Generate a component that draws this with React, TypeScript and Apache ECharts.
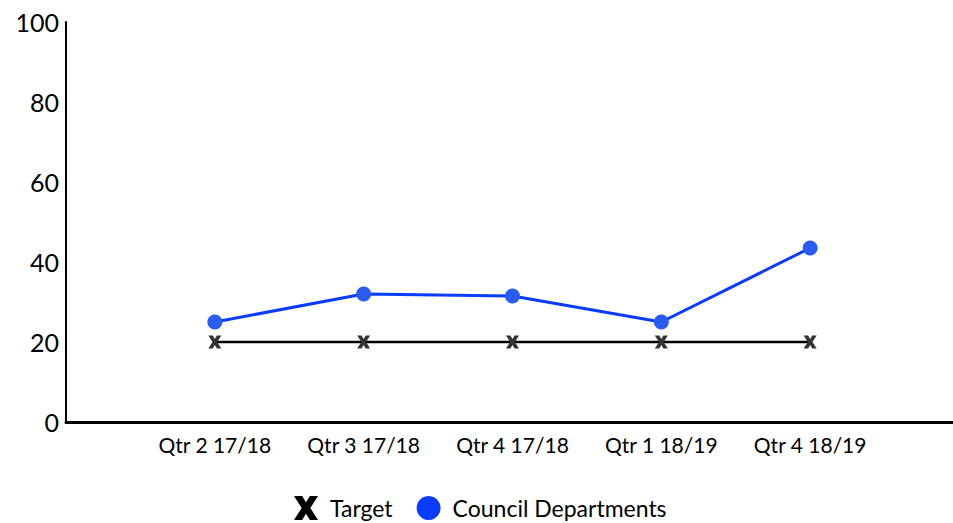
import React, { useEffect, useRef } from "react";
import * as echarts from "echarts";

const categories = ["", "Qtr 2 17/18", "Qtr 3 17/18", "Qtr 4 17/18", "Qtr 1 18/19", "Qtr 4 18/19", ""];
const councilValues = [null, 25, 32, 31.5, 25, 43.5, null];
const targetValues = [null, 20, 20, 20, 20, 20, null];
const yTicks = [0, 20, 40, 60, 80, 100];

const X_PATH = "path://M0,0 L3.4,0 L5,2.6 L6.6,0 L10,0 L6.8,5 L10,10 L6.6,10 L5,7.4 L3.4,10 L0,10 L3.2,5 Z";
const FONT = "Lato, 'Open Sans', sans-serif";

export default function App() {
  const ref = useRef<HTMLDivElement>(null);
  useEffect(() => {
    if (!ref.current) return;
    const chart = echarts.init(ref.current, undefined, { renderer: "svg" });
    chart.setOption({
      animation: false,
      backgroundColor: "#ffffff",
      textStyle: { fontFamily: FONT },
      grid: { left: 66, right: 2, top: 22, bottom: 101, containLabel: false },
      legend: {
        top: 496,
        left: 294,
        padding: 0,
        itemGap: 24,
        itemWidth: 26,
        itemHeight: 24,
        textStyle: { fontSize: 23, color: "#000", fontFamily: FONT, padding: [0, 0, 0, 6] },
        data: [
          { name: "Target", icon: X_PATH, itemStyle: { color: "#000" } },
          { name: "Council Departments", icon: "circle", itemStyle: { color: "#0a3cff" } },
        ],
      },
      xAxis: {
        type: "category",
        data: categories,
        boundaryGap: false,
        axisLine: { lineStyle: { color: "#000", width: 3 } },
        axisTick: { show: false },
        axisLabel: { color: "#000", fontSize: 21, margin: 12, interval: 0, fontFamily: FONT },
        splitLine: { show: false },
      },
      yAxis: {
        type: "value",
        min: yTicks[0],
        max: yTicks[yTicks.length - 1],
        interval: 20,
        axisLine: { show: true, lineStyle: { color: "#000", width: 2 } },
        axisTick: { show: false },
        axisLabel: { color: "#000", fontSize: 25, margin: 7, fontFamily: FONT },
        splitLine: { show: false },
      },
      series: [
        {
          name: "Target",
          type: "line",
          data: targetValues,
          symbol: X_PATH,
          symbolSize: [13, 13],
          lineStyle: { color: "#000", width: 2.5 },
          itemStyle: { color: "#333" },
          z: 2,
        },
        {
          name: "Council Departments",
          type: "line",
          data: councilValues,
          symbol: "circle",
          symbolSize: 15,
          lineStyle: { color: "#0a3cff", width: 3 },
          itemStyle: { color: "#2a5cf2" },
          z: 3,
        },
      ],
    });
    return () => chart.dispose();
  }, []);
  return (
    <div style={{ width: 953, height: 523, position: "absolute", left: 0, top: 0, overflow: "hidden" }}>
      <div ref={ref} style={{ width: 962, height: 523, position: "absolute", left: 0, top: 0 }} />
    </div>
  );
}
